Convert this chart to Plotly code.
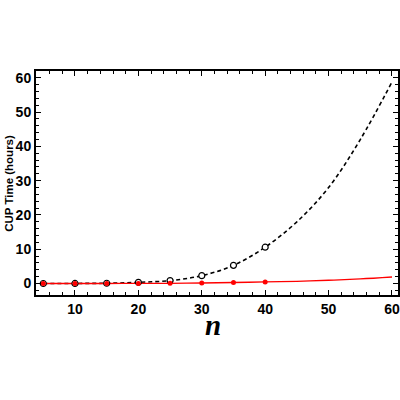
import plotly.graph_objects as go

# measured points (n = 5 ... 40)
n_points = [5, 10, 15, 20, 25, 30, 35, 40]
time_black = [0.0, 0.02, 0.08, 0.35, 0.85, 2.3, 5.3, 10.6]
time_red = [0.0, 0.0, 0.01, 0.03, 0.06, 0.15, 0.3, 0.45]

# fitted curves
n_curve = [5, 10, 15, 20, 25, 30, 35, 40, 45, 50, 55, 60]
fit_black = [0.0, 0.02, 0.08, 0.35, 0.85, 2.3, 5.3, 10.6, 18.0, 28.0, 42.0, 58.8]
fit_red = [0.0, 0.0, 0.01, 0.03, 0.06, 0.15, 0.3, 0.45, 0.65, 0.95, 1.35, 1.9]

x_ticks = [10, 20, 30, 40, 50, 60]
y_ticks = [0, 10, 20, 30, 40, 50, 60]

fig = go.Figure()

fig.add_trace(go.Scatter(
    x=n_curve, y=fit_black, mode="lines", line_shape="spline",
    line=dict(color="black", width=1.6, dash="4px,3px"), showlegend=False,
))
fig.add_trace(go.Scatter(
    x=n_curve, y=fit_red, mode="lines", line_shape="spline",
    line=dict(color="#ff0000", width=1.3), showlegend=False,
))
fig.add_trace(go.Scatter(
    x=n_points, y=time_black, mode="markers",
    marker=dict(symbol="circle", size=6, color="white", line=dict(color="black", width=1.2)),
    showlegend=False,
))
fig.add_trace(go.Scatter(
    x=n_points, y=time_red, mode="markers",
    marker=dict(symbol="circle", size=5, color="#ff0000"),
    showlegend=False,
))

axis_common = dict(
    showgrid=False, zeroline=False, automargin=False,
    showline=True, linecolor="black", linewidth=2, mirror="allticks",
    ticks="inside", ticklen=5, tickwidth=1.2, tickcolor="black",
    tickfont=dict(family="Liberation Sans", size=14, color="black", weight="bold"),
    minor=dict(dtick=2, ticks="inside", ticklen=3, tickcolor="black", tickwidth=1),
)

fig.update_layout(
    width=400, height=400,
    paper_bgcolor="white", plot_bgcolor="white",
    margin=dict(l=36, r=1.5, t=71, b=105),
    xaxis=dict(range=[3.85, 60.95], tickvals=x_ticks, **axis_common),
    yaxis=dict(range=[-3.35, 62.0], tickvals=y_ticks, **axis_common),
    annotations=[
        dict(text="<i>n</i>", xref="paper", yref="paper", x=0.49, y=-0.135,
             xanchor="center", yanchor="middle", showarrow=False,
             font=dict(family="Liberation Serif", size=29, color="black", weight="bold")),
        dict(text="CUP Time (hours)", xref="paper", yref="paper", x=-0.075, y=0.5,
             xanchor="center", yanchor="middle", showarrow=False, textangle=-90,
             font=dict(family="Liberation Sans", size=11.5, color="black", weight="bold")),
    ],
)

# drop the default body margin so the 400x400 figure sits at the page corner
fig.write_html(
    "out.html",
    config={"displayModeBar": False},
    post_script="document.body.style.margin = '0';",
)
